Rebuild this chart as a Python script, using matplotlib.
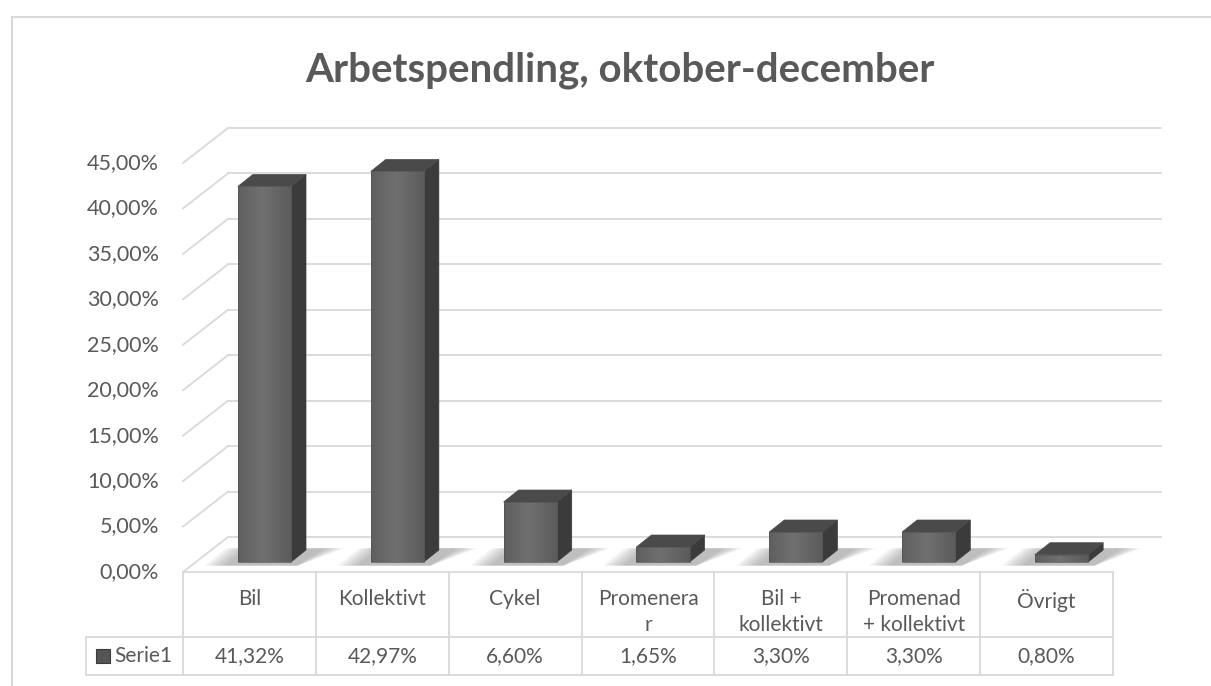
import numpy as np
import matplotlib
matplotlib.use("Agg")
from matplotlib import pyplot as plt
from matplotlib.patches import Polygon, Rectangle
from matplotlib.lines import Line2D
from matplotlib.colors import LinearSegmentedColormap

plt.rcParams['font.family'] = ['Lato', 'DejaVu Sans']

# data
categories = ["Bil", "Kollektivt", "Cykel", "Promenera\nr", "Bil +\nkollektivt",
              "Promenad\n+ kollektivt", "Övrigt"]
values = [41.32, 42.97, 6.60, 1.65, 3.30, 3.30, 0.80]
series_name = "Serie1"
yticks = [0, 5, 10, 15, 20, 25, 30, 35, 40, 45]
title = "Arbetspendling, oktober-december"

TXT = '#595959'
GRID = '#d9d9d9'

# layout (pixels of a 1211x686 canvas)
W, H = 1211, 686
X0_PX, COL_PX = 183, 132.86
Y0_PX, PX_PCT = 572, 9.089

fig = plt.figure(figsize=(W / 100, H / 100), dpi=100)
ax = fig.add_axes([0, 0, 1, 1])
ax.axis('off')

n = len(categories)
wall_dx = 45 / COL_PX
wall_dy = 35 / PX_PCT
back_right = (1161 - X0_PX) / COL_PX

# walls / gridlines
for v in yticks:
    ax.plot([0, wall_dx], [v, v + wall_dy], color=GRID, lw=1.3, zorder=1)
    ax.plot([wall_dx, back_right], [v + wall_dy, v + wall_dy], color=GRID, lw=1.3, zorder=1)
    lab = f"{v:.2f}".replace('.', ',') + '%'
    ax.text(-24 / COL_PX, v, lab, ha='right', va='center', fontsize=15.5, color=TXT)

# bars
bw = 0.40
bx_off = 15 / COL_PX     # front face shift into the depth
by_off = 10 / PX_PCT
ddx = 15 / COL_PX        # bar depth
ddy = 12 / PX_PCT
grad = np.linspace(0, 1, 64)
grad = 1 - 0.6 * np.abs(grad - 0.45) * 2
grad = np.tile(grad, (2, 1))
face_cmap = LinearSegmentedColormap.from_list('f', ['#505050', '#707070'])

for i, v in enumerate(values):
    xl = i + 0.5 - bw / 2 + bx_off
    xr = xl + bw
    yb = by_off
    yt = by_off + v
    # soft shadow on the floor
    for k in range(7):
        e = 0.025 * k
        shp = [(xl - 0.10 - e, yb - 0.4), (xr + 0.05, yb - 0.4),
               (xr + ddx + 0.14 + e, yb + ddy + 0.2), (xl + ddx - 0.05 - e, yb + ddy + 0.2)]
        ax.add_patch(Polygon(shp, closed=True, facecolor='#707070', edgecolor='none',
                             alpha=0.08, zorder=2))
    # side face
    ax.add_patch(Polygon([(xr, yb), (xr + ddx, yb + ddy), (xr + ddx, yt + ddy), (xr, yt)],
                         closed=True, facecolor='#3b3b3b', edgecolor='#3b3b3b', lw=0.5, zorder=3))
    # top face
    ax.add_patch(Polygon([(xl, yt), (xr, yt), (xr + ddx, yt + ddy), (xl + ddx, yt + ddy)],
                         closed=True, facecolor='#4a4a4a', edgecolor='#4a4a4a', lw=0.5, zorder=3))
    # front face with gradient
    front = Rectangle((xl, yb), bw, v, facecolor='none', edgecolor='#555555', lw=0.5, zorder=4)
    ax.add_patch(front)
    im = ax.imshow(grad, extent=[xl, xr, yb, yt], cmap=face_cmap, vmin=0, vmax=1,
                   aspect='auto', zorder=3.5, interpolation='bilinear')
    im.set_clip_path(front)

ax.set_xlim(-X0_PX / COL_PX, (W - X0_PX) / COL_PX)
ax.set_ylim((Y0_PX - H) / PX_PCT, Y0_PX / PX_PCT)

# data table
row1 = -(637 - Y0_PX) / PX_PCT
row2 = -(675 - Y0_PX) / PX_PCT
leg_left = (86 - X0_PX) / COL_PX
ax.plot([0, n], [0, 0], color=GRID, lw=1.3, zorder=1)
ax.plot([leg_left, n], [row1, row1], color=GRID, lw=1.3)
ax.plot([leg_left, n], [row2, row2], color=GRID, lw=1.3)
ax.plot([leg_left, leg_left], [row1, row2], color=GRID, lw=1.3)
for i in range(n + 1):
    ax.plot([i, i], [0, row2], color=GRID, lw=1.3)

cat_y = -(589 - Y0_PX) / PX_PCT
val_y = (row1 + row2) / 2
for i, (c, v) in enumerate(zip(categories, values)):
    ax.text(i + 0.5, cat_y, c, ha='center', va='top', fontsize=15, color=TXT,
            linespacing=1.4)
    ax.text(i + 0.5, val_y, f"{v:.2f}".replace('.', ',') + '%', ha='center', va='center',
            fontsize=15, color=TXT)

# legend key
kx = (96 - X0_PX) / COL_PX
ax.add_patch(Rectangle((kx, val_y - 0.75), 14 / COL_PX, 1.5, facecolor='#555555',
                       edgecolor='#3b3b3b', lw=0.8))
ax.text((114 - X0_PX) / COL_PX, val_y, series_name, ha='left', va='center',
        fontsize=15, color=TXT)

# chart area border
fig.add_artist(Line2D([12 / W, 12 / W], [0, 1 - 17 / H], color=GRID, lw=1.5))
fig.add_artist(Line2D([12 / W, 1], [1 - 17 / H, 1 - 17 / H], color=GRID, lw=1.5))

fig.text(620 / W, 1 - 70 / H, title, ha='center', va='center', fontsize=29,
         fontweight='bold', color=TXT)

fig.savefig("out.png", dpi=100)
